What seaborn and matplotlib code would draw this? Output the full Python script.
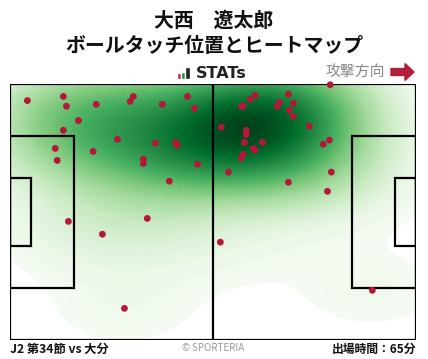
import numpy as np
import pandas as pd
import matplotlib
matplotlib.use("Agg")
import matplotlib.pyplot as plt
from matplotlib.patches import Rectangle, FancyArrow
from matplotlib.colors import ListedColormap
import seaborn as sns

sns.set_theme(style="white")
plt.rcParams['font.family'] = ['Noto Sans CJK JP', 'DejaVu Sans']

# Touch positions (pitch metres, x: 0-105 left->right, y: 0-68 top->bottom)
touch_x = [4.5, 13.8, 14.6, 22.3, 31.9, 31.1, 39.4, 45.9, 47.7, 17.7, 13.8, 27.8,
           37.6, 42.8, 43.3, 11.7, 21.5, 12.2, 34.5, 34.5, 48.5, 41.2,
           82.8, 63.4, 72.0, 62.1, 59.8, 60.3, 69.7, 69.1, 73.3, 72.2, 73.3,
           54.7, 61.1, 61.1, 77.4, 65.3, 60.6, 82.6, 81.0, 62.9, 63.4, 60.3,
           59.8, 56.5, 83.1, 72.0, 82.1,
           15.1, 23.9, 35.5, 29.6, 54.4, 93.7]
touch_y = [4.4, 3.3, 5.9, 5.4, 3.3, 4.6, 5.4, 3.3, 6.5, 9.7, 12.3, 14.7,
           15.7, 15.5, 16.3, 17.1, 17.9, 20.3, 20.0, 21.1, 21.3, 25.8,
           0.2, 3.0, 2.7, 4.1, 5.9, 5.9, 4.9, 5.9, 5.1, 7.0, 8.6,
           11.5, 12.3, 13.4, 11.2, 15.5, 15.5, 14.9, 16.0, 17.1, 17.6, 18.7,
           19.7, 23.4, 23.4, 26.1, 28.5,
           36.5, 39.9, 35.7, 59.6, 42.0, 54.8]

df = pd.DataFrame({"x": touch_x, "y": touch_y})

W, H = 428, 359
fig = plt.figure(figsize=(W / 100, H / 100), dpi=100)
ax = fig.add_axes([10 / W, (H - 340) / H, 406 / W, 256 / H])

greens = plt.get_cmap("Greens")
cmap = ListedColormap(greens(np.linspace(0, 1, 256) ** 0.8))

sns.kdeplot(data=df, x="x", y="y", fill=True, cmap=cmap, levels=100,
            thresh=0.01, bw_adjust=1.3, clip=((0, 105), (0, 68)), ax=ax, zorder=1)

sns.scatterplot(data=df, x="x", y="y", color="#b5173a", s=24, edgecolor="none",
                ax=ax, zorder=5, clip_on=False)

lw = 1.6
kw = dict(fill=False, edgecolor="black", linewidth=lw, zorder=4)
ax.add_patch(Rectangle((0, 0), 105, 68, **kw))
ax.plot([52.5, 52.5], [0, 68], color="black", linewidth=lw, zorder=4)
ax.add_patch(Rectangle((0, 13.85), 16.5, 40.3, **kw))
ax.add_patch(Rectangle((105 - 16.5, 13.85), 16.5, 40.3, **kw))
ax.add_patch(Rectangle((0, 24.85), 5.5, 18.3, **kw))
ax.add_patch(Rectangle((105 - 5.5, 24.85), 5.5, 18.3, **kw))

ax.set_xlim(0, 105)
ax.set_ylim(68, 0)
ax.set_xlabel("")
ax.set_ylabel("")
ax.set_xticks([])
ax.set_yticks([])
for s in ax.spines.values():
    s.set_visible(False)

# Titles
fig.text(214 / W, 1 - 20 / H, "大西　遼太郎", ha="center", va="center",
         fontsize=14.3, fontweight="bold", color="#111111")
fig.text(214 / W, 1 - 45 / H, "ボールタッチ位置とヒートマップ", ha="center", va="center",
         fontsize=14.3, fontweight="bold", color="#111111")

# STATs logo
bx = fig.add_axes([177 / W, 1 - 79 / H, 13 / W, 12 / H])
bx.bar([0, 1, 2.1], [0.5, 0.55, 1.0], color=["#d0202e", "#1a9a3a", "#222222"],
       width=[0.9, 0.9, 1.2])
bx.set_xlim(-0.5, 2.75)
bx.set_ylim(0, 1)
bx.axis("off")
fig.text(196 / W, 1 - 73 / H, "STATs", ha="left", va="center",
         fontsize=11.5, fontweight="bold", color="#222222", family=["DejaVu Sans"])

# Attack direction
fig.text(385 / W, 1 - 72 / H, "攻撃方向", ha="right", va="center",
         fontsize=10.7, color="#888888")
fig.patches.append(FancyArrow(391 / W, 1 - 72 / H, 14 / W, 0, width=7 / H,
                              head_width=17 / H, head_length=9 / W,
                              length_includes_head=False, color="#b0203a",
                              transform=fig.transFigure, figure=fig))

# Footer
fig.text(10 / W, 1 - 349 / H, "J2 第34節 vs 大分", ha="left", va="center",
         fontsize=8.8, fontweight="bold", color="#111111")
fig.text(213 / W, 1 - 348 / H, "© SPORTERIA", ha="center", va="center",
         fontsize=7, color="#999999")
fig.text(416 / W, 1 - 349 / H, "出場時間：65分", ha="right", va="center",
         fontsize=8.5, fontweight="bold", color="#111111")

fig.savefig("out.png", dpi=100)
